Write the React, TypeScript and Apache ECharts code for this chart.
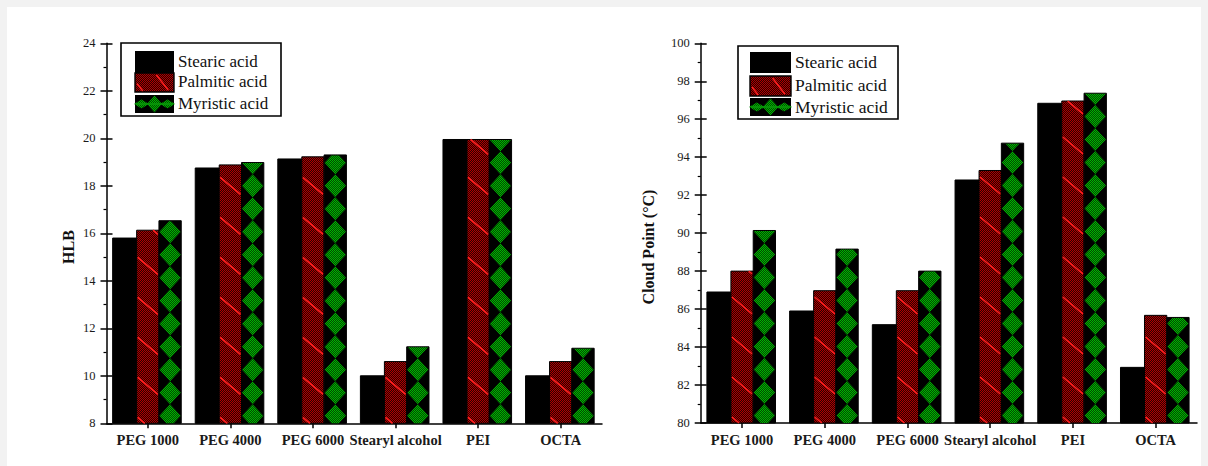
import React, { useEffect, useRef } from "react";
import * as echarts from "echarts";

// ---------------- data ----------------
const CATEGORIES = ["PEG 1000", "PEG 4000", "PEG 6000", "Stearyl alcohol", "PEI", "OCTA"];
const SERIES_NAMES = ["Stearic acid", "Palmitic acid", "Myristic acid"];

const HLB_STEARIC = [15.8, 18.75, 19.13, 10.0, 19.95, 10.0];
const HLB_PALMITIC = [16.13, 18.88, 19.22, 10.6, 19.95, 10.6];
const HLB_MYRISTIC = [16.53, 18.98, 19.3, 11.22, 19.95, 11.16];

const CP_STEARIC = [86.9, 85.9, 85.18, 92.8, 96.84, 82.93];
const CP_PALMITIC = [88.0, 86.97, 86.97, 93.3, 96.96, 85.67];
const CP_MYRISTIC = [90.14, 89.16, 88.0, 94.74, 97.37, 85.56];

const HLB_MIN = 8;
const HLB_MAX = 24;
const HLB_STEP = 2;
const CP_MIN = 80;
const CP_MAX = 100;
const CP_STEP = 2;

const HLB_NAME = "HLB";
const CP_NAME = "Cloud Point (\u00B0C)";

// ---------------- style ----------------
const FONT = "Liberation Serif";
const BW = 22.3; // bar width in px
const BW_BLACK = 24; // black bar extends a bit to the left
const DIAMOND_P = 23; // diamond period
const LINE_S = 40; // red diagonal spacing
const LINE_D = 17; // red diagonal drop across bar

function checker(c1: string, c2: string) {
  const cv = document.createElement("canvas");
  cv.width = 2;
  cv.height = 2;
  const ctx = cv.getContext("2d")!;
  ctx.fillStyle = c2;
  ctx.fillRect(0, 0, 2, 2);
  ctx.fillStyle = c1;
  ctx.fillRect(0, 0, 1, 1);
  ctx.fillRect(1, 1, 1, 1);
  return { image: cv, repeat: "repeat", imageWidth: 2, imageHeight: 2 } as any;
}

function clipHalf(pts: number[][], keep: (p: number[]) => boolean, yl: number) {
  const out: number[][] = [];
  for (let i = 0; i < pts.length; i++) {
    const a = pts[i];
    const b = pts[(i + 1) % pts.length];
    const ia = keep(a);
    const ib = keep(b);
    if (ia) out.push(a);
    if (ia !== ib) {
      const t = (yl - a[1]) / (b[1] - a[1]);
      out.push([a[0] + t * (b[0] - a[0]), yl]);
    }
  }
  return out;
}

function clipY(pts: number[][], yMin: number, yMax: number) {
  let o = clipHalf(pts, (p) => p[1] >= yMin, yMin);
  if (o.length) o = clipHalf(o, (p) => p[1] <= yMax, yMax);
  return o;
}

function redBar(x0: number, y0: number, w: number, yb: number, redFill: any) {
  const ch: any[] = [];
  ch.push({ type: "rect", shape: { x: x0, y: y0, width: w, height: yb - y0 }, style: { fill: redFill, stroke: "#000", lineWidth: 1 } });
  for (let yk = yb - 6; yk > y0 - LINE_D - LINE_S; yk -= LINE_S) {
    let t0 = 0;
    let t1 = 1;
    const ta = (y0 - yk) / LINE_D;
    const tb = (yb - yk) / LINE_D;
    t0 = Math.max(t0, ta);
    t1 = Math.min(t1, tb);
    if (t1 <= t0) continue;
    const xa = x0 + 1;
    const xb = x0 + w - 1;
    ch.push({
      type: "line",
      shape: { x1: xa + (xb - xa) * t0, y1: yk + LINE_D * t0, x2: xa + (xb - xa) * t1, y2: yk + LINE_D * t1 },
      style: { stroke: "#ff2020", lineWidth: 1.6 },
    });
  }
  return ch;
}

function greenBar(x0: number, y0: number, w: number, yb: number, greenFill: any) {
  const ch: any[] = [];
  ch.push({ type: "rect", shape: { x: x0, y: y0, width: w, height: yb - y0 }, style: { fill: "#000", stroke: "#000", lineWidth: 1 } });
  const cx = x0 + w / 2;
  const a = w / 2 - 0.5;
  const b = DIAMOND_P / 2;
  for (let neck = yb + 4; neck > y0 - DIAMOND_P; neck -= DIAMOND_P) {
    const cy = neck - b;
    const pts = [
      [cx, cy - b],
      [cx + a, cy],
      [cx, cy + b],
      [cx - a, cy],
    ];
    const c = clipY(pts, y0 + 0.5, yb);
    if (c.length >= 3) ch.push({ type: "polygon", shape: { points: c }, style: { fill: greenFill } });
  }
  return ch;
}

function makeRender(kind: number, redFill: any, greenFill: any) {
  return (params: any, api: any) => {
    const c = api.value(0);
    const v = api.value(1);
    const p = api.coord([c, v]);
    const cs = params.coordSys;
    const yb = cs.y + cs.height;
    const x0 = p[0] + (kind - 1) * BW - BW / 2;
    const y0 = p[1];
    let children: any[] = [];
    if (kind === 0) {
      const xb = x0 + BW;
      children.push({ type: "rect", shape: { x: xb - BW_BLACK, y: y0, width: BW_BLACK, height: yb - y0 }, style: { fill: "#000", stroke: "#000", lineWidth: 1 } });
    } else if (kind === 1) {
      children = redBar(x0, y0, BW, yb, redFill);
    } else {
      children = greenBar(x0, y0, BW, yb, greenFill);
    }
    return { type: "group", children };
  };
}

function legendGraphic(x: number, y: number, w: number, h: number, sx: number, sw: number, rows: number[][], tx: number, ty: number[], fs: number, redFill: any, greenFill: any) {
  const els: any[] = [];
  els.push({ type: "rect", shape: { x, y, width: w, height: h }, style: { fill: "#fff", stroke: "#000", lineWidth: 1.6 }, z: 10 });
  els.push({ type: "rect", shape: { x: sx, y: rows[0][0], width: sw, height: rows[0][1] }, style: { fill: "#000" }, z: 11 });
  els.push({ type: "rect", shape: { x: sx, y: rows[1][0], width: sw, height: rows[1][1] }, style: { fill: redFill, stroke: "#000", lineWidth: 1.4 }, z: 11 });
  els.push({
    type: "line",
    shape: { x1: sx + sw * 0.55, y1: rows[1][0] + 2, x2: sx + sw * 0.85, y2: rows[1][0] + rows[1][1] - 2 },
    style: { stroke: "#ff2020", lineWidth: 1.5 },
    z: 12,
  });
  els.push({
    type: "line",
    shape: { x1: sx + 2, y1: rows[1][0] + rows[1][1] * 0.55, x2: sx + sw * 0.2, y2: rows[1][0] + rows[1][1] - 1 },
    style: { stroke: "#ff2020", lineWidth: 1.5 },
    z: 12,
  });
  const gy = rows[2][0];
  const gh = rows[2][1];
  els.push({ type: "rect", shape: { x: sx, y: gy, width: sw, height: gh }, style: { fill: "#000" }, z: 11 });
  const mid = gy + gh / 2;
  const cxm = sx + sw / 2;
  const dw = sw / 3;
  const centers = [cxm - dw, cxm, cxm + dw];
  centers.forEach((cx, i) => {
    const hh = i === 1 ? gh / 2 - 0.5 : gh / 4;
    els.push({
      type: "polygon",
      shape: { points: [[cx, mid - hh], [cx + dw / 2 + 1, mid], [cx, mid + hh], [cx - dw / 2 - 1, mid]] },
      style: { fill: greenFill },
      z: 12,
    });
  });
  els.push({ type: "rect", shape: { x: sx + 1, y: mid - 0.8, width: sw - 2, height: 1.6 }, style: { fill: "#0a9a0a" }, z: 12 });
  SERIES_NAMES.forEach((n, i) => {
    els.push({
      type: "text",
      x: tx,
      y: ty[i],
      style: { text: n, fill: "#111", fontFamily: FONT, fontSize: fs, verticalAlign: "middle", align: "left" },
      z: 12,
    });
  });
  return els;
}

function axisTitle(text: string, x: number, y: number, fs: number) {
  return {
    type: "text",
    x,
    y,
    rotation: Math.PI / 2,
    style: { text, fill: "#111", fontFamily: FONT, fontWeight: "bold", fontSize: fs, align: "center", verticalAlign: "middle" },
    z: 12,
  };
}

function yAxes(gridIndex: number, min: number, max: number, step: number) {
  const axisLine = { show: true, lineStyle: { color: "#000", width: 1.5 } };
  return [
    {
      type: "value",
      gridIndex,
      position: "left",
      min,
      max,
      interval: step,
      axisLine,
      axisTick: { show: true, inside: false, length: 6, lineStyle: { color: "#000", width: 1.5 } },
      minorTick: { show: true, splitNumber: 2, length: 3, lineStyle: { color: "#000", width: 1.2 } },
      splitLine: { show: false },
      axisLabel: { fontFamily: FONT, fontSize: 12.5, color: "#1a1a1a", margin: 11 },
    },
    {
      type: "value",
      gridIndex,
      position: "left",
      min,
      max,
      interval: step,
      axisLine: { show: false },
      axisTick: { show: true, inside: true, length: 6, lineStyle: { color: "#000", width: 1.5 } },
      splitLine: { show: false },
      axisLabel: { show: false },
    },
  ];
}

function xAxis(gridIndex: number) {
  return {
    type: "category",
    gridIndex,
    data: CATEGORIES,
    boundaryGap: true,
    axisLine: { show: true, lineStyle: { color: "#000", width: 1.5 } },
    axisTick: { show: true, alignWithLabel: true, length: 5, lineStyle: { color: "#000", width: 1.5 } },
    axisLabel: { interval: 0, fontFamily: FONT, fontWeight: "bold", fontSize: 14.5, color: "#1a1a1a", margin: 9 },
    splitLine: { show: false },
  };
}

export default function App() {
  const ref = useRef<HTMLDivElement>(null);
  useEffect(() => {
    if (!ref.current) return;
    const chart = echarts.init(ref.current, undefined, { renderer: "svg" });
    const redFill = checker("#b00000", "#2a0000");
    const greenFill = checker("#00b400", "#004a00");

    const toData = (arr: number[]) => arr.map((v, i) => [i, v]);
    const leftSets = [HLB_STEARIC, HLB_PALMITIC, HLB_MYRISTIC];
    const rightSets = [CP_STEARIC, CP_PALMITIC, CP_MYRISTIC];
    const series: any[] = [];
    leftSets.forEach((arr, k) => {
      series.push({
        type: "custom",
        name: SERIES_NAMES[k],
        xAxisIndex: 0,
        yAxisIndex: 0,
        renderItem: makeRender(k, redFill, greenFill),
        encode: { x: 0, y: 1 },
        data: toData(arr),
      });
    });
    rightSets.forEach((arr, k) => {
      series.push({
        type: "custom",
        name: SERIES_NAMES[k],
        xAxisIndex: 1,
        yAxisIndex: 2,
        renderItem: makeRender(k, redFill, greenFill),
        encode: { x: 0, y: 1 },
        data: toData(arr),
      });
    });

    chart.setOption({
      animation: false,
      backgroundColor: "transparent",
      textStyle: { fontFamily: FONT },
      grid: [
        { left: 106.5, right: 606, top: 43.3, bottom: 42.7 },
        { left: 700.7, right: 11, top: 43.3, bottom: 43 },
      ],
      xAxis: [xAxis(0), xAxis(1)],
      yAxis: [...yAxes(0, HLB_MIN, HLB_MAX, HLB_STEP), ...yAxes(1, CP_MIN, CP_MAX, CP_STEP)],
      series,
      graphic: [
        axisTitle(HLB_NAME, 68, 247, 16),
        axisTitle(CP_NAME, 648, 247, 16),
        ...legendGraphic(121, 43, 160, 73, 135, 39, [[51, 22], [73, 19], [95, 18]], 178, [61, 81.5, 103], 17, redFill, greenFill),
        ...legendGraphic(738, 46, 160, 73, 750, 41, [[52, 21], [76, 20], [98, 18]], 795, [62, 85, 107], 17.5, redFill, greenFill),
      ],
    });
    return () => chart.dispose();
  }, []);
  return (
    <div style={{ position: "absolute", left: 0, top: 0, width: 1208, height: 466, background: "#f2f2f2", overflow: "hidden" }}>
      <div style={{ position: "absolute", left: 7, top: 7, width: 1194, height: 459, background: "#ffffff" }} />
      <div ref={ref} style={{ position: "absolute", left: 0, top: 0, width: 1208, height: 466 }} />
    </div>
  );
}
